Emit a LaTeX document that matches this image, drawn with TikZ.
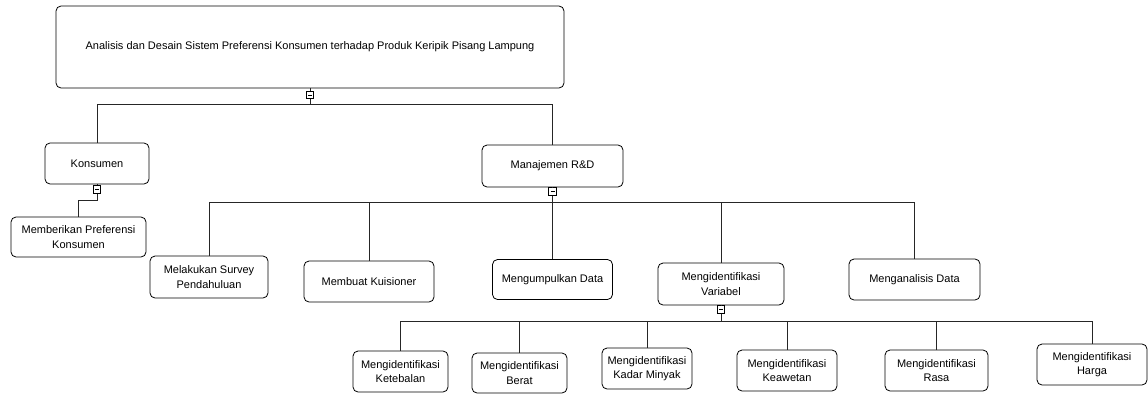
\documentclass[tikz,border=0pt]{standalone}
\usepackage{fontspec}
\setmainfont{Liberation Sans}
\tikzset{
	box/.style={draw, rounded corners=5pt, line width=0.8pt, align=center, inner sep=0pt, font=\fontsize{11}{14.5}\selectfont},
	toggle/.style={draw, line width=0.6pt, minimum size=7.5pt, inner sep=0pt, fill=white,
		path picture={\draw ([xshift=-2pt]path picture bounding box.center) -- ([xshift=2pt]path picture bounding box.center);}},
	link/.style={line width=1pt, black!85}
}
\begin{document}
\begin{tikzpicture}[x=1pt, y=-1pt]
		\useasboundingbox (0,0) rectangle (1148,394);
		\node [box, minimum width=508pt, minimum height=82pt] (judul) at (310,47) {Analisis dan Desain Sistem Preferensi Konsumen terhadap Produk Keripik Pisang Lampung};
		\node [box, minimum width=104pt, minimum height=41pt] (konsumen) at (97,163.5) {Konsumen};
		\node [box, minimum width=141pt, minimum height=42pt] (manajemen) at (552.5,166) {Manajemen R\&D};
		\node [box, minimum width=135pt, minimum height=40pt] (preferensi) at (78.5,237) {Memberikan Preferensi\\Konsumen};
		\node [box, minimum width=118pt, minimum height=42pt] (survey) at (209,277) {Melakukan Survey\\Pendahuluan};
		\node [box, minimum width=130pt, minimum height=41pt] (kuisioner) at (369,281.5) {Membuat Kuisioner};
		\node [box, minimum width=120pt, minimum height=40pt] (kumpul) at (552.5,279.5) {Mengumpulkan Data};
		\node [box, minimum width=126pt, minimum height=42pt] (variabel) at (721,284) {Mengidentifikasi\\Variabel};
		\node [box, minimum width=131pt, minimum height=41pt] (analisis) at (914.5,279.5) {Menganalisis Data};
		\node [box, minimum width=95pt, minimum height=41pt] (ketebalan) at (400.5,371.5) {Mengidentifikasi\\Ketebalan};
		\node [box, minimum width=95pt, minimum height=40pt] (berat) at (519.5,373) {Mengidentifikasi\\Berat};
		\node [box, minimum width=90pt, minimum height=41pt] (minyak) at (647,368.5) {Mengidentifikasi\\Kadar Minyak};
		\node [box, minimum width=100pt, minimum height=41pt] (keawetan) at (787,370.5) {Mengidentifikasi\\Keawetan};
		\node [box, minimum width=103pt, minimum height=41pt] (rasa) at (936.5,370.5) {Mengidentifikasi\\Rasa};
		\node [box, minimum width=110pt, minimum height=41pt] (harga) at (1092,364.5) {Mengidentifikasi\\Harga};
		\node [toggle] (t_judul) at (310,95) {};
		\node [toggle] (t_konsumen) at (97,189.5) {};
		\node [toggle] (t_manajemen) at (552.5,191.5) {};
		\node [toggle] (t_variabel) at (721,309.5) {};
		\coordinate (bar_a) at (310,104);
		\coordinate (bar_b) at (552.5,202);
		\coordinate (bar_c) at (721,321);
		\coordinate (bend) at (97,200);
		\draw [link] (judul) -- (t_judul);
		\draw [link] (t_judul) -- (bar_a);
		\draw [link] (konsumen.north) |- (manajemen.north |- bar_a) -- (manajemen.north);
		\draw [link] (konsumen) -- (t_konsumen);
		\draw [link] (t_konsumen) -- (bend) -| (preferensi.north);
		\draw [link] (manajemen) -- (t_manajemen);
		\draw [link] (t_manajemen) -- (kumpul);
		\draw [link] (survey.north) |- (analisis.north |- bar_b) -- (analisis.north);
		\draw [link] (kuisioner.north) -- (kuisioner.north |- bar_b);
		\draw [link] (variabel.north) -- (variabel.north |- bar_b);
		\draw [link] (variabel) -- (t_variabel);
		\draw [link] (t_variabel) -- (bar_c);
		\draw [link] (ketebalan.north) |- (harga.north |- bar_c) -- (harga.north);
		\draw [link] (berat.north) -- (berat.north |- bar_c);
		\draw [link] (minyak.north) -- (minyak.north |- bar_c);
		\draw [link] (keawetan.north) -- (keawetan.north |- bar_c);
		\draw [link] (rasa.north) -- (rasa.north |- bar_c);
	\end{tikzpicture}
\end{document}
